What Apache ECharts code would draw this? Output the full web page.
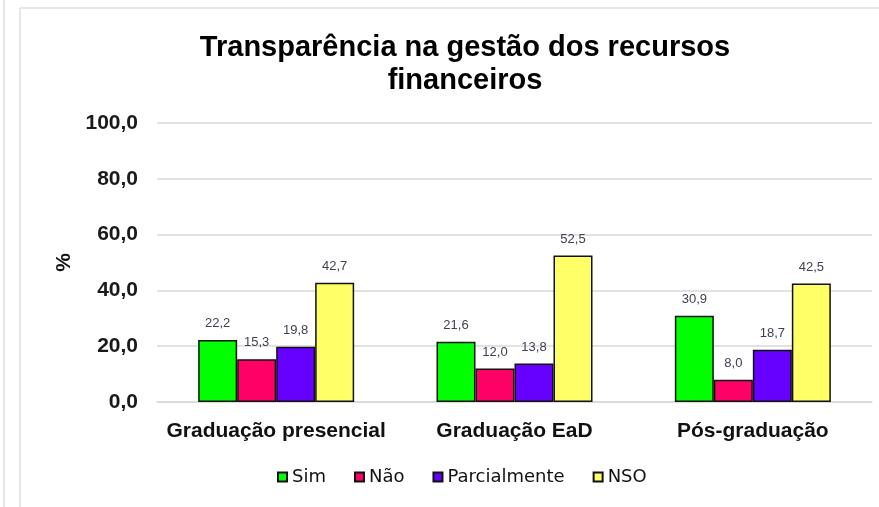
<!DOCTYPE html>
<html>
<head>
<meta charset="utf-8">
<script src="https://cdn.jsdelivr.net/npm/echarts@6/dist/echarts.min.js"></script>
<style>
    html, body {
        margin: 0;
        padding: 0;
        background: #fff;
    }

    #main {
        width: 879px;
        height: 507px;
    }
</style>
</head>
<body>
<div id="main"></div>
<script>
    // categorias e valores (%)
    var categorias = ['Graduação presencial', 'Graduação EaD', 'Pós-graduação'];
    var sim = [22.2, 21.6, 30.9];
    var nao = [15.3, 12.0, 8.0];
    var parcialmente = [19.8, 13.8, 18.7];
    var nso = [42.7, 52.5, 42.5];
    var nomesSeries = ['Sim', 'Não', 'Parcialmente', 'NSO'];
    var cores = ['#00ff00', '#ff0066', '#6600ff', '#ffff66'];

    function fmt(v) {
        return v.toFixed(1).replace('.', ',');
    }

    function serie(i, dados) {
        return {
            name: nomesSeries[i],
            type: 'bar',
            data: dados,
            barWidth: 39,
            barGap: '0%',
            itemStyle: { color: cores[i], borderColor: '#111', borderWidth: 1.5 },
            label: {
                show: true,
                position: 'top',
                distance: 10,
                fontSize: 13,
                fontFamily: 'Liberation Sans',
                color: '#404050',
                formatter: function (p) { return fmt(p.value); }
            }
        };
    }

    var chart = echarts.init(document.getElementById('main'));
    chart.setOption({
        animation: false,
        backgroundColor: '#fff',
        title: {
            text: 'Transparência na gestão dos recursos\nfinanceiros',
            left: 460,
            top: 26,
            textAlign: 'center',
            textStyle: {
                fontFamily: 'Liberation Sans',
                fontSize: 29,
                fontWeight: 'bold',
                color: '#000',
                lineHeight: 33
            }
        },
        legend: {
            bottom: 16,
            left: 272,
            itemWidth: 9,
            itemHeight: 9,
            itemGap: 28,
            icon: 'rect',
            textStyle: { fontFamily: 'DejaVu Sans', fontSize: 18, color: '#111' },
            data: nomesSeries
        },
        grid: { left: 157, right: 7, top: 123, bottom: 105 },
        xAxis: {
            type: 'category',
            data: categorias,
            axisTick: { show: false },
            axisLine: { lineStyle: { color: '#d9d9d9', width: 1.5 } },
            axisLabel: {
                interval: 0,
                margin: 19,
                fontFamily: 'Liberation Sans',
                fontSize: 21,
                fontWeight: 'bold',
                color: '#111'
            }
        },
        yAxis: {
            type: 'value',
            min: 0,
            max: 100,
            interval: 20,
            name: '%',
            nameLocation: 'middle',
            nameGap: 80,
            nameTextStyle: { fontFamily: 'Liberation Sans', fontSize: 21, fontWeight: 'bold', color: '#111' },
            axisLabel: {
                margin: 19,
                fontFamily: 'Liberation Sans',
                fontSize: 21,
                fontWeight: 'bold',
                color: '#1a1a1a',
                formatter: function (v) { return fmt(v); }
            },
            splitLine: { lineStyle: { color: '#d9d9d9', width: 1.5 } }
        },
        graphic: [
            { type: 'line', shape: { x1: 4, y1: 0, x2: 4, y2: 507 }, style: { stroke: '#e6e6e6', lineWidth: 2 } },
            { type: 'line', shape: { x1: 20, y1: 8, x2: 20, y2: 507 }, style: { stroke: '#e6e6e6', lineWidth: 2 } },
            { type: 'line', shape: { x1: 20, y1: 8, x2: 879, y2: 8 }, style: { stroke: '#e6e6e6', lineWidth: 2 } }
        ],
        series: [
            serie(0, sim),
            serie(1, nao),
            serie(2, parcialmente),
            serie(3, nso)
        ]
    });
</script>
</body>
</html>
